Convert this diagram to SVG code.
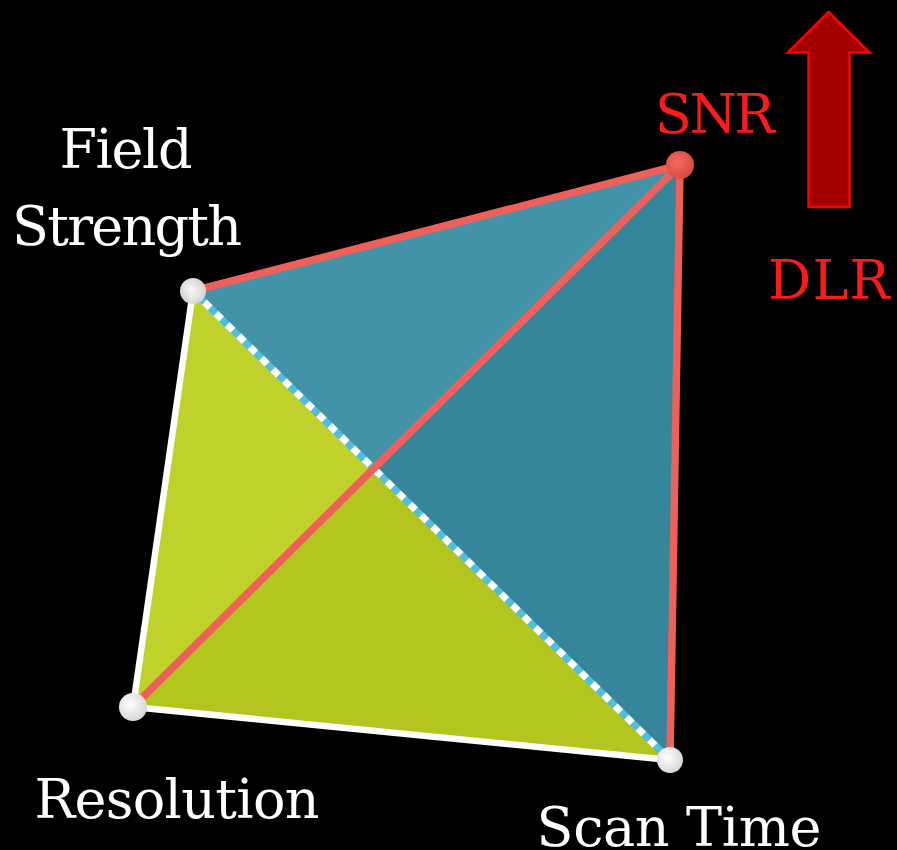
<svg xmlns="http://www.w3.org/2000/svg" width="897" height="850" viewBox="0 0 897 850">
<defs>
<style>
.lbl{font-family:"DejaVu Serif","Liberation Serif",serif;font-size:54px;fill:#ffffff}
.red{fill:#ff1a1a}
.edgeW{stroke:#ffffff;stroke-width:6.5;fill:none;stroke-linecap:round}
.edgeR{stroke:#f0605a;stroke-width:7.5;fill:none;stroke-linecap:round}
</style>
<radialGradient id="wg" cx="0.4" cy="0.4" r="0.6">
<stop offset="0" stop-color="#ffffff"/>
<stop offset="1" stop-color="#d8d8d8"/>
</radialGradient>
<radialGradient id="rg" cx="0.4" cy="0.4" r="0.6">
<stop offset="0" stop-color="#f26a62"/>
<stop offset="1" stop-color="#dc4a44"/>
</radialGradient>
</defs>
<rect width="897" height="850" fill="#000000"/>
<g id="faces">
<polygon points="193,291 680,165 373.6,468.6" fill="#4393a8"/>
<polygon points="680,165 670,760 373.6,468.6" fill="#35869a"/>
<polygon points="193,291 133,707 373.6,468.6" fill="#bfd12a"/>
<polygon points="133,707 670,760 373.6,468.6" fill="#b4c51f"/>
</g>
<g id="connectors">
<line class="edgeW" x1="193" y1="291" x2="133" y2="707"/>
<line class="edgeW" x1="133" y1="707" x2="670" y2="760"/>
<line x1="193" y1="291" x2="670" y2="760" stroke="#4fbfe0" stroke-width="7"/>
<line x1="193" y1="291" x2="670" y2="760" stroke="#ffffff" stroke-width="7" stroke-dasharray="8 8"/>
<line class="edgeR" x1="193" y1="291" x2="680" y2="165"/>
<line class="edgeR" x1="680" y1="165" x2="670" y2="760"/>
<line class="edgeR" x1="133" y1="707" x2="680" y2="165"/>
</g>
<g id="node-field-strength">
<circle cx="193" cy="291" r="13" fill="url(#wg)" opacity="0.95"/>
<text class="lbl" x="126" y="168" text-anchor="middle" textLength="133">Field</text>
<text class="lbl" x="127" y="245" text-anchor="middle" textLength="230">Strength</text>
</g>
<g id="node-snr">
<circle cx="680" cy="165" r="14" fill="url(#rg)"/>
<text class="lbl red" x="715" y="133" text-anchor="middle" textLength="120">SNR</text>
</g>
<g id="node-resolution">
<circle cx="133" cy="707" r="14" fill="url(#wg)"/>
<text class="lbl" x="177" y="818" text-anchor="middle" textLength="285">Resolution</text>
</g>
<g id="node-scan-time">
<circle cx="670" cy="760" r="13" fill="url(#wg)"/>
<text class="lbl" x="679" y="846" text-anchor="middle" textLength="285">Scan Time</text>
</g>
<g id="node-dlr">
<polygon points="828.7,12 788,52.5 808.5,52.5 808.5,207 849.5,207 849.5,52.5 869.5,52.5" fill="#a50000" stroke="#ff0000" stroke-width="2.5" stroke-linejoin="miter"/>
<text class="lbl red" x="829" y="299" text-anchor="middle" textLength="122">DLR</text>
</g>
</svg>
